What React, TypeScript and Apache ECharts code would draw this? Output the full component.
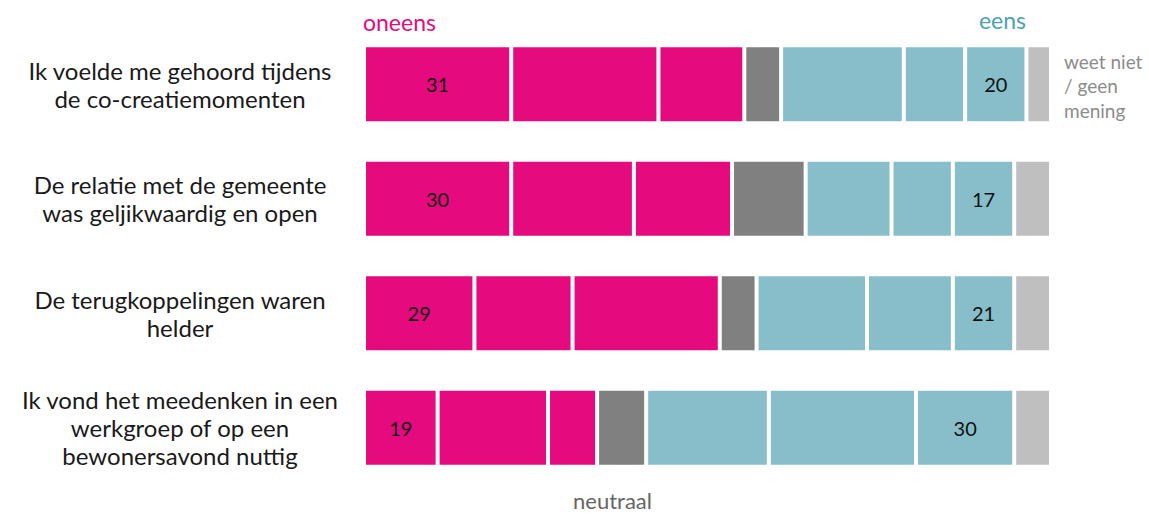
import React, { useEffect, useRef } from "react";
import * as echarts from "echarts";

const categories = [
  "Ik voelde me gehoord tijdens\nde co-creatiemomenten",
  "De relatie met de gemeente\nwas geljikwaardig en open",
  "De terugkoppelingen waren\nhelder",
  "Ik vond het meedenken in een\nwerkgroep of op een\nbewonersavond nuttig",
];

const oneens1 = [12, 12, 9, 6];
const oneens2 = [12, 10, 8, 9];
const oneens3 = [7, 8, 12, 4];
const neutraal = [3, 6, 3, 4];
const eens1 = [10, 7, 9, 10];
const eens2 = [5, 5, 7, 12];
const eens3 = [5, 5, 5, 8];
const weetNiet = [2, 3, 3, 3];

const total = 56;

const PINK = "#E50A7E";
const GRAY = "#808080";
const TEAL = "#87BEC9";
const LIGHT = "#BFBFBF";
const FONT = "Lato, 'Open Sans', sans-serif";

export default function App() {
  const ref = useRef<HTMLDivElement>(null);
  useEffect(() => {
    if (!ref.current) return;
    const chart = echarts.init(ref.current, undefined, { renderer: "svg" });
    const oneensTotal = oneens1.map((v, i) => v + oneens2[i] + oneens3[i]);
    const eensTotal = eens1.map((v, i) => v + eens2[i] + eens3[i]);
    const mk = (name: string, data: number[], color: string, labels?: number[]) => ({
      name,
      type: "bar",
      stack: "all",
      barWidth: 78,
      data,
      itemStyle: { color, borderColor: "#ffffff", borderWidth: 2 },
      label: labels
        ? {
            show: true,
            position: "inside",
            color: "#111",
            fontSize: 20,
            fontFamily: FONT,
            formatter: (p: any) => String(labels[p.dataIndex]),
          }
        : { show: false },
      emphasis: { disabled: true },
    });
    chart.setOption({
      animation: false,
      grid: { left: 364, right: 98, top: 27, bottom: 29 },
      xAxis: { type: "value", min: 0, max: total, show: false },
      yAxis: {
        type: "category",
        data: categories,
        inverse: true,
        axisLine: { show: false },
        axisTick: { show: false },
        axisLabel: {
          align: "center",
          margin: 184,
          fontSize: 24,
          lineHeight: 28,
          color: "#1a1a1a",
          fontFamily: FONT,
        },
      },
      series: [
        mk("helemaal oneens", oneens1, PINK, oneensTotal),
        mk("oneens", oneens2, PINK),
        mk("enigszins oneens", oneens3, PINK),
        mk("neutraal", neutraal, GRAY),
        mk("enigszins eens", eens1, TEAL),
        mk("eens", eens2, TEAL),
        mk("helemaal eens", eens3, TEAL, eensTotal),
        mk("weet niet / geen mening", weetNiet, LIGHT),
      ],
      graphic: [
        {
          type: "text",
          left: 363,
          top: 10,
          style: { text: "oneens", fill: PINK, fontSize: 23, fontFamily: FONT },
        },
        {
          type: "text",
          right: 123,
          top: 8,
          style: { text: "eens", fill: "#4DA3B3", fontSize: 23, fontFamily: FONT },
        },
        {
          type: "text",
          left: 1064,
          top: 49,
          style: {
            text: "weet niet\n/ geen\nmening",
            fill: "#8C8C8C",
            fontSize: 19,
            lineHeight: 24.5,
            fontFamily: FONT,
          },
        },
        {
          type: "text",
          left: 573,
          top: 489,
          style: { text: "neutraal", fill: "#666666", fontSize: 22, fontFamily: FONT },
        },
      ],
    });
    return () => chart.dispose();
  }, []);
  return (
    <div
      ref={ref}
      style={{ position: "absolute", left: 0, top: 0, width: 1149, height: 514 }}
    />
  );
}
